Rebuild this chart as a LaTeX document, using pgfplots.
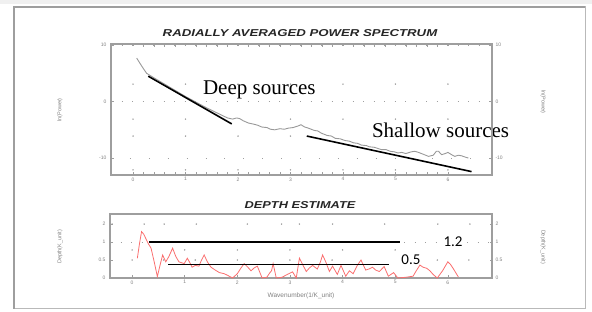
\documentclass[border=0pt]{standalone}
\usepackage{pgfplots}
\pgfplotsset{compat=1.18}
\usepackage{fontspec}
\setmainfont{Liberation Serif}
\setsansfont{Liberation Sans}
\newfontfamily\calib{Carlito}
\definecolor{frame}{gray}{0.62}
\definecolor{curvegray}{gray}{0.6}
\definecolor{lightred}{RGB}{250,110,110}
\tikzset{
  dotgrid/.style={gray!75, line width=0.9pt, dash pattern=on 0.9pt off 9.6pt},
  sparsegrid/.style={gray!75, line width=0.9pt, dash pattern=on 0.9pt off 18pt},
}
\pgfplotsset{
  common/.style={
    scale only axis, clip=false,
    xmin=-0.42, xmax=6.84,
    axis line style={frame, line width=1.3pt},
    tick style={frame, line width=0.6pt},
    major tick length=2.5pt,
    tick label style={font=\sffamily\fontsize{5}{6}\selectfont, text=gray},
    /pgf/number format/assume math mode=true,
    xtick={0,1,2,3,4,5,6},
    xticklabel style={yshift=1pt},
    yticklabel style={xshift=-1pt},
  },
}
\begin{document}
\begin{tikzpicture}
\path[use as bounding box] (0pt,0pt) rectangle (592pt,312pt);
\fill[gray!12] (0pt,308pt) rectangle (592pt,312pt);
\draw[gray!55, line width=1pt] (14pt,3pt) rectangle (585pt,305pt);
\draw[frame, line width=1.6pt] (14pt,3pt) -- (14pt,305pt) -- (585pt,305pt);
% titles
\node[font=\sffamily\bfseries\itshape\fontsize{10}{11}\selectfont, text=black!85] at (300pt,279pt) {\scalebox{1.32}[1]{RADIALLY AVERAGED POWER SPECTRUM}};
\node[font=\sffamily\bfseries\itshape\fontsize{10}{11}\selectfont, text=black!85] at (300pt,107pt) {\scalebox{1.28}[1]{DEPTH ESTIMATE}};
% axis labels
\node[rotate=90, font=\sffamily\fontsize{5.5}{6}\selectfont, text=gray] at (60pt,202pt) {ln(Power)};
\node[rotate=-90, font=\sffamily\fontsize{5.5}{6}\selectfont, text=gray] at (543pt,210pt) {ln(Power)};
\node[rotate=90, font=\sffamily\fontsize{5.5}{6}\selectfont, text=gray] at (60pt,65pt) {Depth(K\_unit)};
\node[rotate=-90, font=\sffamily\fontsize{5.5}{6}\selectfont, text=gray] at (543pt,65pt) {Depth(K\_unit)};
\node[font=\sffamily\fontsize{6.5}{7}\selectfont, text=gray] at (301pt,16pt) {Wavenumber(1/K\_unit)};

% ---------------- top axis ----------------
\begin{axis}[common,
  at={(111pt,137pt)}, anchor=south west, width=381pt, height=131pt,
  ymin=-13, ymax=10.2,
  ytick={0,10}, yticklabels={0,10},
  ymajorgrids, grid style={dotgrid},
  extra y ticks={-10}, extra y tick labels={-10},
  extra y tick style={grid=major, grid style={sparsegrid}},
  minor x tick num=4,
  xtick pos=both, xticklabel pos=lower,
  ytick pos=left,
]
\addplot[only marks, mark=*, mark size=0.5pt, gray!75] coordinates {
(0,3.1)(1,3.1)(2,3.1)(3,3.1)(4,3.1)(5,3.1)(6,3.1)
(0,-3.1)(1,-3.1)(3,-3.1)(4,-3.1)(5,-3.1)(6,-3.1)
(0,-6.1)(1,-6.1)(2,-6.1)(3,-6.1)(5,-6.1)(6,-6.1)
(0,-12.1)(1,-12.1)(2,-12.1)(3,-12.1)(4,-12.1)(5,-12.1)(6,-12.1)
};
\addplot[curvegray, line width=0.9pt] coordinates {
(0.07,7.7)(0.13,6.8)(0.2,5.8)(0.26,5.0)(0.4,4.2)(0.6,3.1)(0.8,2.0)(1.0,0.9)
(1.2,-0.1)(1.4,-1.1)(1.6,-2.0)(1.8,-2.9)(1.9,-3.1)(1.97,-2.9)(2.03,-3.0)(2.1,-3.4)
(2.2,-3.8)(2.3,-4.0)(2.38,-4.2)(2.45,-4.5)(2.55,-4.6)(2.62,-4.9)(2.7,-5.0)(2.8,-4.8)
(2.88,-4.9)(2.96,-4.7)(3.05,-4.6)(3.15,-4.3)(3.2,-4.1)(3.27,-4.5)(3.34,-4.7)(3.45,-5.1)
(3.52,-5.2)(3.59,-5.6)(3.7,-6.0)(3.78,-6.1)(3.85,-6.5)(3.95,-6.6)(4.04,-6.9)(4.12,-7.0)
(4.2,-7.3)(4.28,-7.4)(4.35,-7.7)(4.45,-7.8)(4.5,-8.0)(4.6,-8.1)(4.73,-8.5)(4.82,-8.5)
(4.9,-8.8)(4.98,-8.9)(5.05,-9.1)(5.12,-9.0)(5.2,-9.2)(5.3,-8.9)(5.37,-8.8)(5.44,-9.0)
(5.55,-9.4)(5.63,-9.7)(5.72,-9.5)(5.78,-8.8)(5.82,-8.8)(5.88,-9.4)(5.95,-9.2)(6.0,-9.0)
(6.07,-9.4)(6.13,-9.7)(6.2,-9.5)(6.26,-9.6)(6.32,-9.8)(6.39,-10.0)
};
\addplot[black, line width=1.6pt] coordinates {(0.29,4.5)(1.88,-3.95)};
\addplot[black, line width=1.6pt] coordinates {(3.31,-6.1)(6.45,-12.4)};
\node[anchor=west, font=\fontsize{21}{22}\selectfont, inner sep=0pt] at (axis cs:1.33,2.1) {Deep sources};
\node[anchor=west, font=\fontsize{21}{22}\selectfont, inner sep=0pt] at (axis cs:4.55,-5.0) {Shallow sources};
\end{axis}
\begin{axis}[common,
  at={(111pt,137pt)}, anchor=south west, width=381pt, height=131pt,
  ymin=-13, ymax=10.2,
  ytick={-10,0,10}, yticklabels={-10,0,10},
  axis y line*=right, hide x axis,
  yticklabel style={xshift=1pt},
]
\addplot[draw=none] coordinates {(0,0)};
\end{axis}

% ---------------- bottom axis ----------------
\begin{axis}[common,
  at={(110pt,34pt)}, anchor=south west, width=382pt, height=64pt,
  ymin=0, ymax=1.78,
  ytick={0,0.5,1.5}, yticklabels={0,0.5,2},
  extra y ticks={1}, extra y tick labels={1},
  extra y tick style={grid=major, grid style={dotgrid}},
  xtick pos=lower, ytick pos=left,
]
\addplot[only marks, mark=*, mark size=0.5pt, gray!75] coordinates {
(-0.38,1.5)(0.23,1.5)(0.61,1.5)(1.22,1.5)(2.19,1.5)(2.84,1.5)(3.18,1.5)(3.81,1.5)(4.8,1.5)(5.81,1.5)(6.42,1.5)
(0,0.78)(1,0.78)(2,0.78)(3,0.78)(4,0.78)(5,0.78)
(0,0.5)(0.6,0.5)(1.2,0.5)(2,0.5)(3,0.5)(3.8,0.5)(5.8,0.5)(6.4,0.5)
};
\addplot[lightred, line width=0.8pt] coordinates {
(0.10,0.55)(0.14,0.95)(0.18,1.29)(0.22,1.22)(0.26,1.1)(0.31,0.95)(0.36,0.83)(0.42,0.45)
(0.48,0.04)(0.53,0.35)(0.58,0.64)(0.64,0.45)(0.7,0.6)(0.77,0.83)(0.83,0.6)(0.89,0.45)
(0.99,0.4)(1.05,0.55)(1.1,0.42)(1.14,0.3)(1.2,0.35)(1.27,0.33)(1.32,0.5)(1.37,0.64)
(1.43,0.45)(1.5,0.3)(1.58,0.22)(1.66,0.15)(1.75,0.12)(1.82,0.07)(1.91,0.0)(2.0,0.12)
(2.07,0.28)(2.13,0.4)(2.2,0.3)(2.26,0.2)(2.32,0.28)(2.38,0.33)(2.43,0.15)(2.47,0.0)
(2.56,0.02)(2.62,0.15)(2.65,0.2)(2.68,0.4)(2.71,0.2)(2.74,0.0)(2.85,0.02)(2.95,0.1)
(3.05,0.17)(3.12,0.0)(3.18,0.55)(3.25,0.35)(3.31,0.18)(3.37,0.28)(3.43,0.35)(3.52,0.25)
(3.58,0.45)(3.62,0.64)(3.68,0.45)(3.75,0.18)(3.81,0.33)(3.9,0.1)(3.97,0.35)(4.06,0.05)
(4.13,0.2)(4.2,0.12)(4.28,0.35)(4.35,0.5)(4.44,0.22)(4.5,0.25)(4.57,0.3)(4.63,0.22)
(4.7,0.18)(4.79,0.32)(4.87,0.05)(4.97,0.15)(5.05,0.0)(5.2,0.02)(5.34,0.05)(5.4,0.2)
(5.47,0.36)(5.53,0.3)(5.6,0.27)(5.66,0.2)(5.72,0.1)(5.8,0.0)(5.9,0.2)(6.0,0.45)
(6.05,0.38)(6.1,0.27)(6.2,0.03)
};
\addplot[black, line width=1.6pt] coordinates {(0.32,1.0)(5.1,1.0)};
\addplot[black, line width=1.6pt] coordinates {(0.69,0.38)(4.88,0.38)};
\node[font=\calib\fontsize{15}{16}\selectfont, fill=white, inner sep=1pt] at (axis cs:6.1,1.0) {1.2};
\node[font=\calib\fontsize{15}{16}\selectfont, inner sep=1pt] at (axis cs:5.3,0.5) {0.5};
\end{axis}
\begin{axis}[common,
  at={(110pt,34pt)}, anchor=south west, width=382pt, height=64pt,
  ymin=0, ymax=1.78,
  ytick={0,0.5,1,1.5}, yticklabels={0,0.5,1,2},
  axis y line*=right, hide x axis,
  yticklabel style={xshift=1pt},
]
\addplot[draw=none] coordinates {(0,0)};
\end{axis}
\end{tikzpicture}
\end{document}
